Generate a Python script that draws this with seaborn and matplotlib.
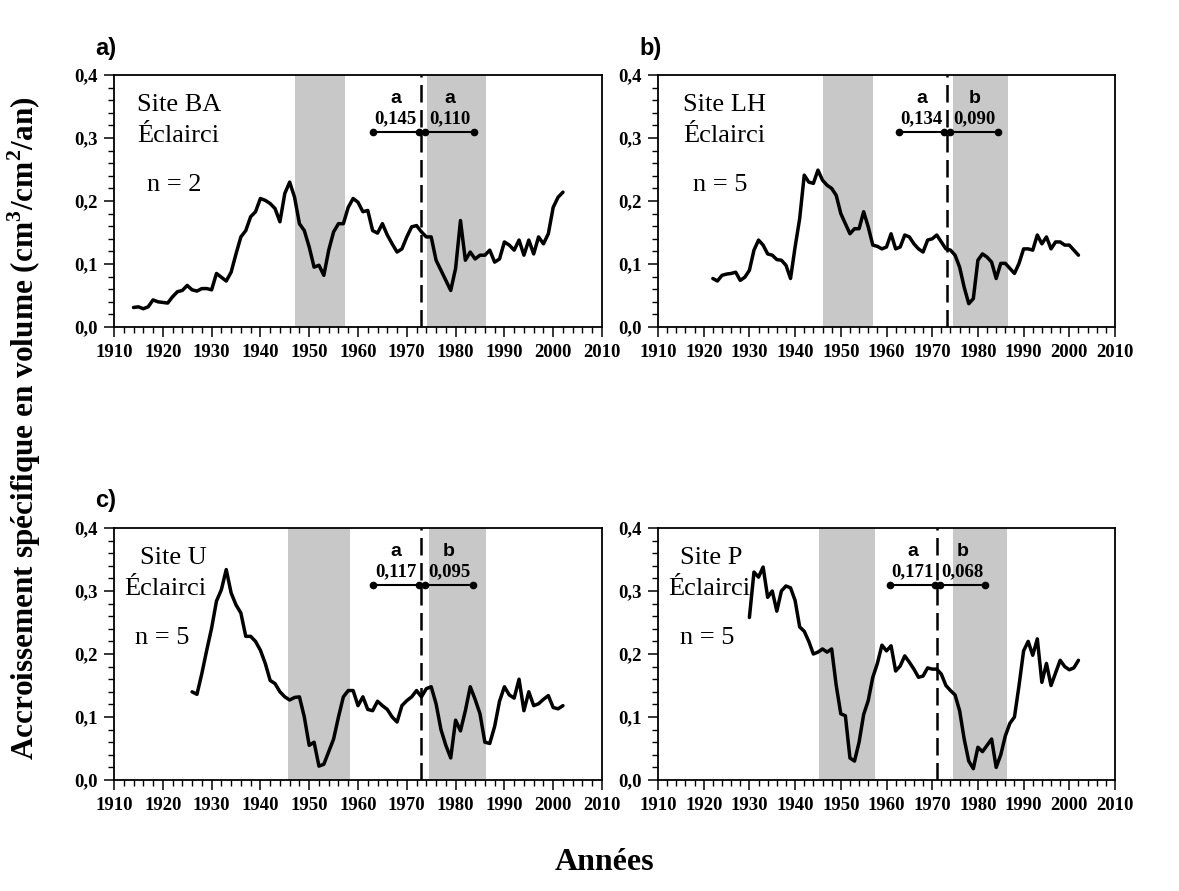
import matplotlib
matplotlib.use("Agg")
import matplotlib.pyplot as plt
import seaborn as sns
import pandas as pd
from matplotlib.ticker import MultipleLocator

sns.set_style("ticks")
plt.rcParams['font.family'] = ['Liberation Serif', 'DejaVu Serif']
plt.rcParams['text.color'] = 'black'
plt.rcParams['axes.labelcolor'] = 'black'
plt.rcParams['xtick.color'] = 'black'
plt.rcParams['ytick.color'] = 'black'
plt.rcParams['mathtext.fontset'] = 'custom'
plt.rcParams['mathtext.rm'] = 'Liberation Serif'
plt.rcParams['mathtext.bf'] = 'Liberation Serif:bold'

# ---------------- data ----------------
years_a = list(range(1914, 2003))
vals_a = [0.031, 0.032, 0.029, 0.032, 0.043, 0.040, 0.039, 0.038, 0.048, 0.056,
          0.058, 0.066, 0.059, 0.057, 0.061, 0.061, 0.059, 0.085, 0.079, 0.073,
          0.087, 0.116, 0.143, 0.153, 0.175, 0.183, 0.204, 0.201, 0.196, 0.188,
          0.167, 0.212, 0.230, 0.206, 0.164, 0.153, 0.127, 0.095, 0.098, 0.082,
          0.122, 0.151, 0.164, 0.164, 0.190, 0.204, 0.198, 0.183, 0.185, 0.153,
          0.149, 0.164, 0.146, 0.132, 0.119, 0.124, 0.143, 0.159, 0.161, 0.151,
          0.143, 0.143, 0.106, 0.090, 0.074, 0.058, 0.093, 0.169, 0.106, 0.119,
          0.108, 0.114, 0.114, 0.122, 0.103, 0.108, 0.135, 0.130, 0.122, 0.138,
          0.114, 0.138, 0.116, 0.143, 0.132, 0.148, 0.190, 0.206, 0.214]

years_b = list(range(1922, 2003))
vals_b = [0.077, 0.073, 0.082, 0.084, 0.085, 0.087, 0.074, 0.079,
          0.090, 0.122, 0.138, 0.130, 0.116, 0.114, 0.107, 0.106, 0.098, 0.077,
          0.127, 0.172, 0.241, 0.230, 0.228, 0.249, 0.233, 0.225, 0.220, 0.209,
          0.180, 0.164, 0.148, 0.156, 0.156, 0.183, 0.159, 0.130, 0.128, 0.124,
          0.127, 0.148, 0.124, 0.127, 0.146, 0.143, 0.132, 0.124, 0.119, 0.138,
          0.140, 0.146, 0.135, 0.124, 0.122, 0.114, 0.095, 0.063, 0.037, 0.045,
          0.106, 0.116, 0.111, 0.103, 0.077, 0.101, 0.101, 0.093, 0.085, 0.101,
          0.124, 0.124, 0.122, 0.146, 0.132, 0.143, 0.124, 0.135, 0.135, 0.130,
          0.130, 0.122, 0.114]

years_c = list(range(1926, 2003))
vals_c = [0.140, 0.136, 0.169, 0.206,
          0.241, 0.284, 0.302, 0.334, 0.297, 0.278, 0.265, 0.228, 0.228, 0.220,
          0.206, 0.185, 0.158, 0.153, 0.140, 0.132, 0.127, 0.131, 0.132, 0.100,
          0.055, 0.060, 0.022, 0.025, 0.045, 0.065, 0.100, 0.132, 0.142, 0.142,
          0.118, 0.132, 0.112, 0.110, 0.125, 0.118, 0.112, 0.100, 0.092, 0.118,
          0.126, 0.132, 0.142, 0.132, 0.145, 0.148, 0.121, 0.080, 0.055, 0.035,
          0.095, 0.078, 0.110, 0.148, 0.128, 0.105, 0.060, 0.058, 0.085, 0.125,
          0.148, 0.135, 0.130, 0.160, 0.110, 0.140, 0.118, 0.121, 0.128, 0.134,
          0.115, 0.113, 0.118]

years_d = list(range(1930, 2003))
vals_d = [0.258, 0.330, 0.322, 0.338, 0.290, 0.300, 0.268, 0.300, 0.308, 0.305,
          0.285, 0.243, 0.236, 0.220, 0.200, 0.203, 0.208, 0.203, 0.208, 0.150,
          0.105, 0.102, 0.035, 0.030, 0.060, 0.104, 0.126, 0.163, 0.185, 0.214,
          0.205, 0.213, 0.173, 0.181, 0.197, 0.187, 0.176, 0.163, 0.165, 0.178,
          0.176, 0.176, 0.168, 0.150, 0.142, 0.135, 0.110, 0.065, 0.030, 0.018,
          0.052, 0.045, 0.055, 0.065, 0.020, 0.040, 0.070, 0.090, 0.100, 0.150,
          0.205, 0.220, 0.198, 0.224, 0.155, 0.185, 0.150, 0.170, 0.190, 0.180,
          0.175, 0.178, 0.190]

site_names = ["Site BA", "Site LH", "Site U", "Site P"]
n_trees = ["n = 2", "n = 5", "n = 5", "n = 5"]
panel_tags = ["a)", "b)", "c)", ""]
mean_before = ["0,145", "0,134", "0,117", "0,171"]
mean_after = ["0,110", "0,090", "0,095", "0,068"]
letter_before = ["a", "a", "a", "a"]
letter_after = ["a", "b", "b", "b"]
thinning_year = [1973, 1973.3, 1973, 1971]
seg_before = [(1963, 1972.4), (1962.7, 1972.6), (1963, 1972.4), (1960.7, 1970.6)]
seg_after = [(1973.8, 1983.7), (1974.0, 1984.5), (1973.8, 1983.5), (1971.8, 1981.6)]
shade_1 = [(1947, 1957.3), (1946, 1957), (1945.6, 1958.3), (1945.3, 1957.5)]
shade_2 = [(1974.2, 1986.2), (1974.6, 1986.6), (1974.5, 1986.3), (1974.5, 1986.3)]

y_ticks = [0.0, 0.1, 0.2, 0.3, 0.4]
y_tick_labels = ["0,0", "0,1", "0,2", "0,3", "0,4"]
x_ticks = list(range(1910, 2011, 10))

all_years = [years_a, years_b, years_c, years_d]
all_vals = [vals_a, vals_b, vals_c, vals_d]

# ---------------- layout ----------------
W, H = 1179, 891
fig = plt.figure(figsize=(W / 100, H / 100), dpi=100)

rects_px = [(114, 75, 602, 327), (658, 75, 1115, 327),
            (114, 528, 602, 780), (658, 528, 1115, 780)]
text_x = [(1914.7, 1914.7, 1916.8), (1915.5, 1915.5, 1917.7),
          (1915.3, 1912.0, 1914.3), (1914.8, 1912.2, 1914.8)]

serif = ['Liberation Serif', 'DejaVu Serif']
sans = ['Liberation Sans', 'DejaVu Sans']

for i in range(4):
    l, t, r, b = rects_px[i]
    ax = fig.add_axes([l / W, 1 - b / H, (r - l) / W, (b - t) / H])
    df = pd.DataFrame({"year": all_years[i], "value": all_vals[i]})

    ax.axvspan(*shade_1[i], color="#c8c8c8", lw=0, zorder=0)
    ax.axvspan(*shade_2[i], color="#c8c8c8", lw=0, zorder=0)

    sns.lineplot(data=df, x="year", y="value", ax=ax, color="black",
                 lw=2.5, zorder=3)

    ax.axvline(thinning_year[i], color="black", lw=1.8,
               dashes=(7, 3), zorder=4)

    yseg = 0.31
    for seg in (seg_before[i], seg_after[i]):
        ax.plot(seg, [yseg, yseg], color="black", lw=1.5, marker="o",
                ms=4.5, zorder=5)
    mid_b = (seg_before[i][0] + seg_before[i][1]) / 2
    mid_a = (seg_after[i][0] + seg_after[i][1]) / 2
    for mid, let, val in ((mid_b, letter_before[i], mean_before[i]),
                          (mid_a, letter_after[i], mean_after[i])):
        ax.text(mid, 0.362, let, ha="center", va="center", fontsize=14,
                fontweight="bold", family=sans, color="black")
        ax.text(mid, 0.331, val, ha="center", va="center", fontsize=13.5,
                fontweight="bold", family=serif, color="black")

    tx = text_x[i]
    ax.text(tx[0], 0.352, site_names[i], ha="left", va="center",
            fontsize=19, family=serif, color="black")
    ax.text(tx[1], 0.303, "Éclairci", ha="left", va="center",
            fontsize=19, family=serif, color="black")
    ax.text(tx[2], 0.226, n_trees[i], ha="left", va="center",
            fontsize=19, family=serif, color="black")

    ax.set_xlim(1910, 2010)
    ax.set_ylim(0, 0.4)
    ax.set_xticks(x_ticks)
    ax.set_xticklabels([str(v) for v in x_ticks])
    ax.xaxis.set_minor_locator(MultipleLocator(2))
    ax.set_yticks(y_ticks)
    ax.set_yticklabels(y_tick_labels)
    ax.yaxis.set_minor_locator(MultipleLocator(0.02))
    ax.set_xlabel("")
    ax.set_ylabel("")
    for s in ax.spines.values():
        s.set_visible(True)
        s.set_color("black")
        s.set_linewidth(1.3)
    ax.tick_params(axis="both", which="major", direction="out", length=7,
                   width=1.1, color="black", labelcolor="black",
                   labelsize=13.5, pad=5)
    ax.tick_params(axis="both", which="minor", direction="out", length=4,
                   width=1.0, color="black")
    for lab in ax.get_xticklabels() + ax.get_yticklabels():
        lab.set_fontweight("bold")
        lab.set_family(serif)

    if panel_tags[i]:
        fig.text((l - 19) / W, 1 - (t - 27) / H, panel_tags[i],
                 ha="left", va="center", fontsize=17, fontweight="bold",
                 family=sans, color="black")

fig.text(24 / W, 1 - 428 / H,
         "Accroissement spécifique en volume (cm$^\\mathbf{3}$/cm$^\\mathbf{2}$/an)",
         rotation=90, ha="center", va="center", fontsize=22.5,
         fontweight="bold", family=serif, color="black")
fig.text(605 / W, 1 - 862 / H, "Années", ha="center", va="center",
         fontsize=23, fontweight="bold", family=serif, color="black")

fig.savefig("out.png", dpi=100)
